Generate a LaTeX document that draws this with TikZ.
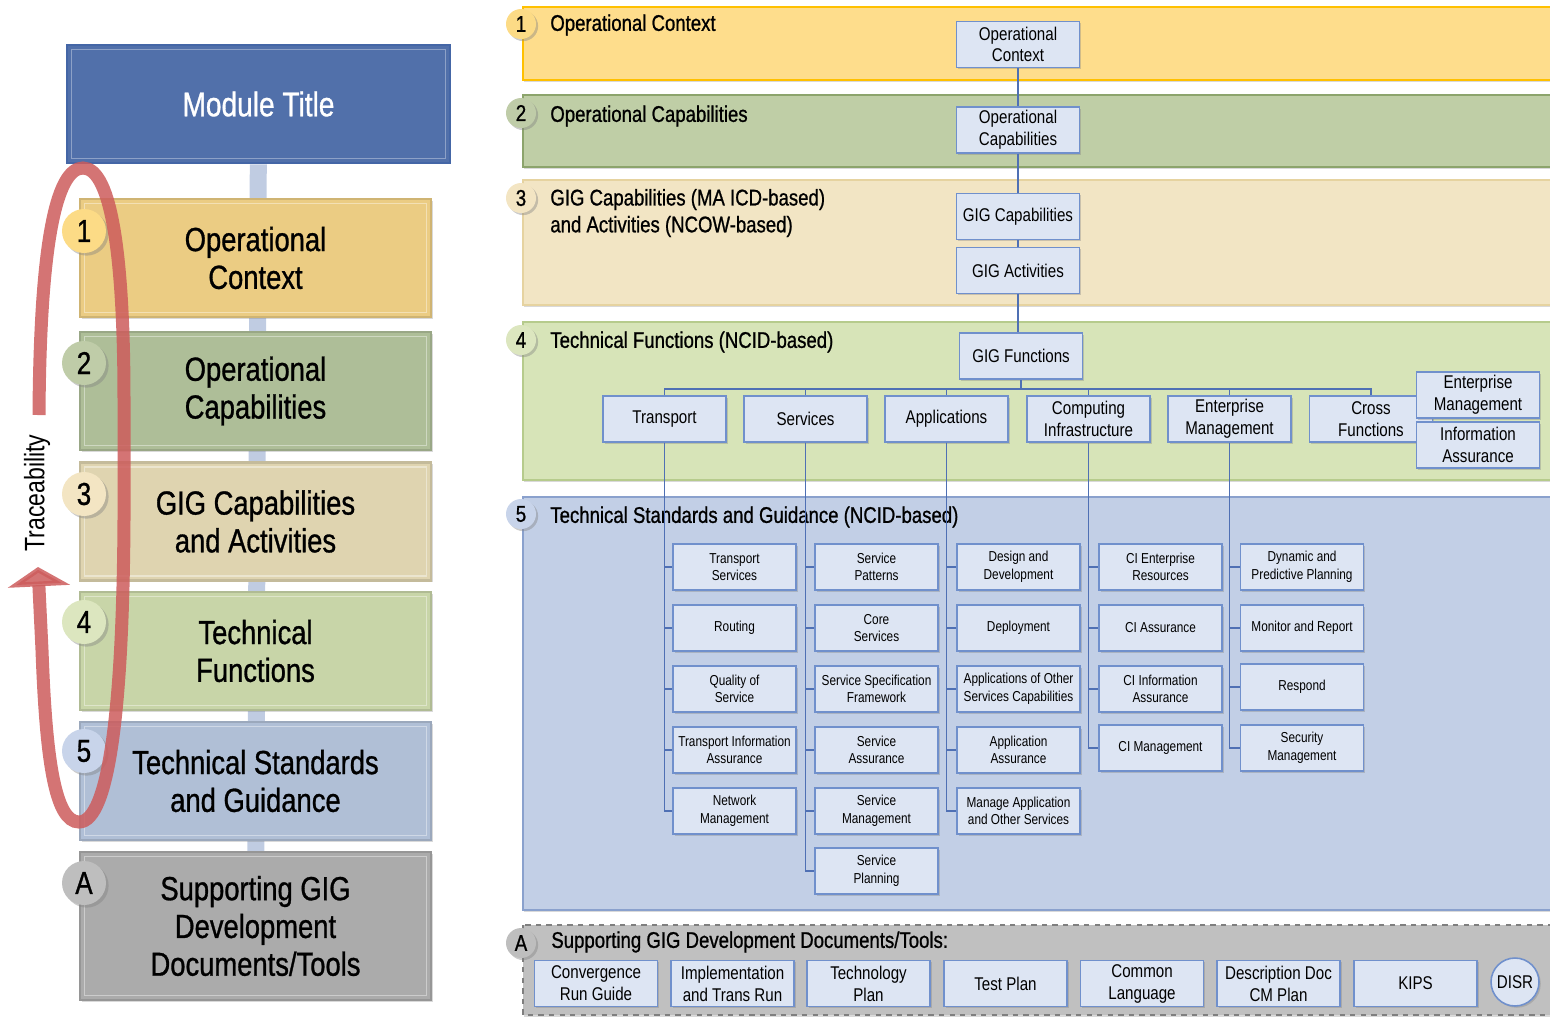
\documentclass[tikz,border=0pt]{standalone}
\usepackage{fontspec}
\setmainfont{Liberation Sans}[FakeStretch=0.82]
\newfontfamily\heavyfont{Liberation Sans}[FakeStretch=0.82, FakeBold=0.9]
\usepackage{xcolor}
\usepackage{tikz}
\usetikzlibrary{arrows.meta, positioning, shadows, backgrounds}
\definecolor{titleblue}{HTML}{5170AA}
\definecolor{titleedge}{HTML}{4466A6}
\definecolor{lone}{HTML}{EBCC83}
\definecolor{ltwo}{HTML}{AEBE98}
\definecolor{lthree}{HTML}{DFD4B0}
\definecolor{lfour}{HTML}{C8D5A8}
\definecolor{lfive}{HTML}{B0BFD6}
\definecolor{lsix}{HTML}{ABABAB}
\definecolor{bone}{HTML}{FCDB86}
\definecolor{btwo}{HTML}{BFCCA8}
\definecolor{bthree}{HTML}{F3E5C3}
\definecolor{bfour}{HTML}{DCE6BF}
\definecolor{bfive}{HTML}{C8D4EA}
\definecolor{bsix}{HTML}{BEBEBE}
\definecolor{bandone}{HTML}{FEDD8C}
\definecolor{bandoneedge}{HTML}{FFC000}
\definecolor{bandtwo}{HTML}{BFCEA6}
\definecolor{bandtwoedge}{HTML}{8CA46C}
\definecolor{bandthree}{HTML}{F2E5C4}
\definecolor{bandthreeedge}{HTML}{E6D3A0}
\definecolor{bandfour}{HTML}{D7E4B8}
\definecolor{bandfouredge}{HTML}{B6CB8C}
\definecolor{bandfive}{HTML}{C2CFE6}
\definecolor{bandfiveedge}{HTML}{8AA1CD}
\definecolor{bandsix}{HTML}{C0C0C0}
\definecolor{bandsixedge}{HTML}{7F7F7F}
\definecolor{boxfill}{HTML}{DDE5F3}
\definecolor{boxline}{HTML}{7090CC}
\definecolor{linkblue}{HTML}{4F70B4}
\definecolor{barblue}{HTML}{C0CCE2}
\definecolor{loopred}{HTML}{CD5C5C}

\begin{document}
\begin{tikzpicture}[x=0.02cm, y=-0.02cm,
    modbox/.style={rectangle, draw=titleedge, line width=1.5pt, fill=titleblue, text=white,
        minimum width=7.66cm, minimum height=2.36cm, font=\heavyfont\fontsize{19.5}{22}\selectfont,
        path picture={\draw[white, opacity=0.35, line width=0.9pt]
            ([shift={(2.6pt,-2.6pt)}]path picture bounding box.north west) rectangle
            ([shift={(-2.6pt,2.6pt)}]path picture bounding box.south east);}},
    leftbox/.style={rectangle, draw=#1!88!black, line width=1.2pt, fill=#1,
        minimum width=7.02cm, minimum height=2.36cm, align=center,
        font=\heavyfont\fontsize{19}{21.5}\selectfont,
        path picture={\draw[white, opacity=0.4, line width=0.9pt]
            ([shift={(2.6pt,-2.6pt)}]path picture bounding box.north west) rectangle
            ([shift={(-2.6pt,2.6pt)}]path picture bounding box.south east);},
        drop shadow={shadow xshift=1pt, shadow yshift=-1pt, opacity=0.3}},
    lbadge/.style={circle, fill=#1, minimum size=0.88cm, inner sep=0pt,
        font=\heavyfont\fontsize{18}{18}\selectfont,
        drop shadow={shadow xshift=1.5pt, shadow yshift=-1.5pt, opacity=0.4}},
    rbadge/.style={circle, fill=#1, minimum size=0.6cm, inner sep=0pt,
        font=\heavyfont\fontsize{13}{13}\selectfont,
        drop shadow={shadow xshift=1.2pt, shadow yshift=-1.2pt, opacity=0.4}},
    band/.style={line width=1pt, drop shadow={shadow xshift=0.8pt, shadow yshift=-1.2pt, opacity=0.3}},
    bandtitle/.style={anchor=west, inner sep=0pt, align=left, font=\heavyfont\fontsize{12.9}{15.3}\selectfont},
    funbox/.style={rectangle, draw=boxline, fill=boxfill, line width=0.9pt,
        minimum width=2.46cm, minimum height=0.92cm, inner sep=1pt, align=center,
        font=\fontsize{10.5}{12.3}\selectfont,
        drop shadow={shadow xshift=1pt, shadow yshift=-1pt, opacity=0.35}},
    stdbox/.style={funbox, font=\fontsize{8.2}{10}\selectfont},
    docbox/.style={funbox, font=\fontsize{10.5}{12.5}\selectfont},
    link/.style={draw=linkblue, line width=0.8pt},
    stembar/.style={draw=barblue, line width=0.34cm},
    traceloop/.style={draw=loopred, line width=7.4pt, opacity=0.85}]
\useasboundingbox (0,0) rectangle (1550,1018);

% Bands
\draw[band, fill=bandone, draw=bandoneedge, line width=1.5pt] (523,7) rectangle (1570,80);
\draw[band, fill=bandtwo, draw=bandtwoedge] (523,95) rectangle (1570,167);
\draw[band, fill=bandthree, draw=bandthreeedge] (523,180) rectangle (1570,305);
\draw[band, fill=bandfour, draw=bandfouredge] (523,322) rectangle (1570,480);
\draw[band, fill=bandfive, draw=bandfiveedge] (523,497) rectangle (1570,910);
\draw[band, fill=bandsix, draw=bandsixedge, dashed] (523,925) rectangle (1570,1015);

\node[rbadge=bone] (r1) at (521,24) {1};
\node[rbadge=btwo] (r2) at (521,113) {2};
\node[rbadge=bthree] (r3) at (521,198) {3};
\node[rbadge=bfour] (r4) at (521,340) {4};
\node[rbadge=bfive] (r5) at (521,514) {5};
\node[rbadge=bsix] (rA) at (521,943) {A};

\node[bandtitle] (t1) at (550,25) {Operational Context};
\node[bandtitle] (t2) at (550,116) {Operational Capabilities};
\node[bandtitle] (t3) at (550,213) {GIG Capabilities (MA ICD-based)\\and Activities (NCOW-based)};
\node[bandtitle] (t4) at (550,342) {Technical Functions (NCID-based)};
\node[bandtitle] (t5) at (550,517) {Technical Standards and Guidance (NCID-based)};
\node[bandtitle] (tA) at (551,942) {Supporting GIG Development Documents/Tools:};

% Spine
\node[funbox] (oc) at (1018,44.5) {Operational\\Context};
\node[funbox] (ocap) at (1018,130) {Operational\\Capabilities};
\node[funbox] (gcap) at (1018,216.5) {GIG Capabilities};
\node[funbox] (gact) at (1018,270.5) {GIG Activities};
\node[funbox] (gfun) at (1021,356) {GIG Functions};
\draw[link] (oc) -- (ocap);
\draw[link] (ocap) -- (gcap);
\draw[link] (gcap) -- (gact);
\draw[link] (gact.south) -- (gact.south |- gfun.north);

% Functions
\node[funbox] (ftrans) at (664.5,419) {Transport};
\node[funbox] (fserv) at (805.5,419) {Services};
\node[funbox] (fapp) at (946.5,419) {Applications};
\node[funbox] (fcomp) at (1088.5,419) {Computing\\Infrastructure};
\node[funbox] (fent) at (1229.5,419) {Enterprise\\Management};
\node[funbox] (fcross) at (1371,419) {Cross\\Functions};
\node[funbox] (fem) at (1478,395) {Enterprise\\Management};
\node[funbox] (fia) at (1478,445) {Information\\Assurance};
\coordinate (bus) at (1021,389);
\draw[link] (gfun) -- (bus);
\draw[link] (bus) -| (ftrans);
\draw[link] (bus) -| (fserv);
\draw[link] (bus) -| (fapp);
\draw[link] (bus) -| (fcomp);
\draw[link] (bus) -| (fent);
\draw[link] (bus) -| (fcross);

% Standards
\node[stdbox] (tsvc) at (734.5,567) {Transport\\Services};
\node[stdbox] (rout) at (734.5,628) {Routing};
\node[stdbox] (qos) at (734.5,689) {Quality of\\Service};
\node[stdbox] (tia) at (734.5,750) {Transport Information\\Assurance};
\node[stdbox] (netm) at (734.5,811) {Network\\Management};
\node[stdbox] (spat) at (876.5,567) {Service\\Patterns};
\node[stdbox] (core) at (876.5,628) {Core\\Services};
\node[stdbox] (sspec) at (876.5,689) {Service Specification\\Framework};
\node[stdbox] (sass) at (876.5,750) {Service\\Assurance};
\node[stdbox] (smgmt) at (876.5,811) {Service\\Management};
\node[stdbox] (splan) at (876.5,871) {Service\\Planning};
\node[stdbox] (desdev) at (1018.5,567) {Design and\\Development};
\node[stdbox] (depl) at (1018.5,628) {Deployment};
\node[stdbox] (appoth) at (1018.5,689) {Applications of Other\\Services Capabilities};
\node[stdbox] (appass) at (1018.5,750) {Application\\Assurance};
\node[stdbox] (manapp) at (1018.5,811) {Manage Application\\and Other Services};
\node[stdbox] (cier) at (1160.5,567) {CI Enterprise\\Resources};
\node[stdbox] (cias) at (1160.5,628) {CI Assurance};
\node[stdbox] (ciia) at (1160.5,689) {CI Information\\Assurance};
\node[stdbox] (cimg) at (1160.5,748) {CI Management};
\node[stdbox] (dyn) at (1302,567) {Dynamic and\\Predictive Planning};
\node[stdbox] (mon) at (1302,628) {Monitor and Report};
\node[stdbox] (resp) at (1302,687) {Respond};
\node[stdbox] (secm) at (1302,748) {Security\\Management};

\draw[link] (ftrans) |- (tsvc);
\draw[link] (ftrans) |- (rout);
\draw[link] (ftrans) |- (qos);
\draw[link] (ftrans) |- (tia);
\draw[link] (ftrans) |- (netm);
\draw[link] (fserv) |- (spat);
\draw[link] (fserv) |- (core);
\draw[link] (fserv) |- (sspec);
\draw[link] (fserv) |- (sass);
\draw[link] (fserv) |- (smgmt);
\draw[link] (fserv) |- (splan);
\draw[link] (fapp) |- (desdev);
\draw[link] (fapp) |- (depl);
\draw[link] (fapp) |- (appoth);
\draw[link] (fapp) |- (appass);
\draw[link] (fapp) |- (manapp);
\draw[link] (fcomp) |- (cier);
\draw[link] (fcomp) |- (cias);
\draw[link] (fcomp) |- (ciia);
\draw[link] (fcomp) |- (cimg);
\draw[link] (fent) |- (dyn);
\draw[link] (fent) |- (mon);
\draw[link] (fent) |- (resp);
\draw[link] (fent) |- (secm);

% Documents/Tools
\node[docbox] (conv) at (596,983.5) {Convergence\\Run Guide};
\node[docbox] (impl) at (732.5,983.5) {Implementation\\and Trans Run};
\node[docbox] (tech) at (868.5,983.5) {Technology\\Plan};
\node[docbox] (test) at (1005.5,983.5) {Test Plan};
\node[docbox] (comm) at (1142,983.5) {Common\\Language};
\node[docbox] (desc) at (1278.5,983.5) {Description Doc\\CM Plan};
\node[docbox] (kips) at (1415.5,983.5) {KIPS};
\node[docbox, circle, minimum size=0.96cm, minimum width=0.96cm, inner sep=0pt] (disr) at (1515,982) {DISR};

% Left column
\node[modbox] (title) at (258.5,104) {Module Title};
\node[leftbox=lone] (lctx) at (255.5,258) {Operational\\Context};
\node[leftbox=ltwo] (lcap) at (255.5,391) {Operational\\Capabilities};
\node[leftbox=lthree] (lgig) at (255.5,521.5) {GIG Capabilities\\and Activities};
\node[leftbox=lfour] (lfun) at (255.5,651) {Technical\\Functions};
\node[leftbox=lfive] (lstd) at (255.5,781) {Technical Standards\\and Guidance};
\node[leftbox=lsix, minimum height=2.96cm] (lsup) at (255.5,926) {Supporting GIG\\Development\\Documents/Tools};
\begin{scope}[on background layer]
    \draw[stembar] (title) -- (lsup);
\end{scope}

\node[lbadge=bone] (b1) at (84,231) {1};
\node[lbadge=btwo] (b2) at (84,363) {2};
\node[lbadge=bthree] (b3) at (84,494) {3};
\node[lbadge=bfour] (b4) at (84,622) {4};
\node[lbadge=bfive] (b5) at (84,751) {5};
\node[lbadge=bsix] (bA) at (84,883) {A};

% Traceability
\draw[traceloop, -{Triangle[width=35pt, length=11pt]}] (39,415)
    .. controls (40,250) and (55,168) .. (83,168)
    .. controls (112,168) and (124,260) .. (124,400) -- (124,520)
    .. controls (123,700) and (110,822) .. (79,822)
    .. controls (55,822) and (46,760) .. (42,650) -- (38,567);
\node[rotate=90, font=\fontsize{16}{16}\selectfont] (trace) at (37,493) {Traceability};
\end{tikzpicture}
\end{document}
